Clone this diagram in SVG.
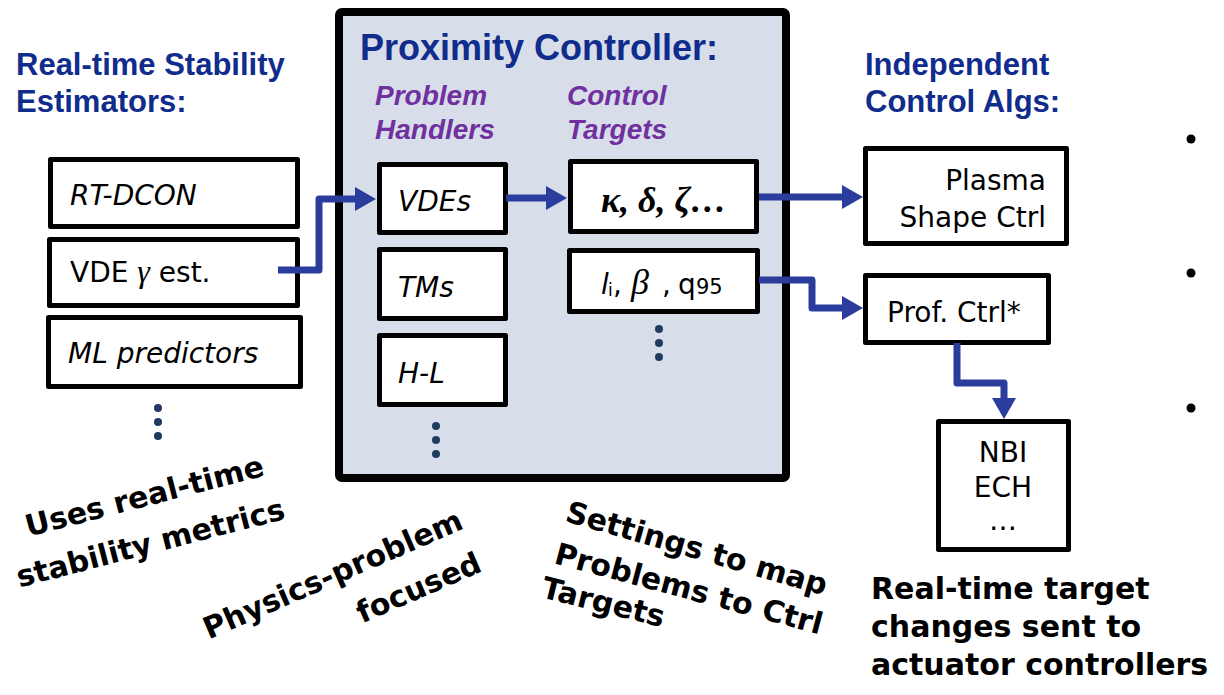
<svg xmlns="http://www.w3.org/2000/svg" width="1224" height="695" viewBox="0 0 1224 695">
  <style>
    .title { font-family: "Liberation Sans", Arial, sans-serif; font-weight: bold; fill: #102c8c; }
    .sub { font-family: "Liberation Sans", Arial, sans-serif; font-weight: bold; font-style: italic; font-size: 28px; fill: #7030a0; }
    .box { fill: #ffffff; stroke: #000000; stroke-width: 5; stroke-linejoin: round; }
    .lbl { font-family: "DejaVu Sans", Verdana, sans-serif; font-size: 28px; fill: #000000; }
    .it { font-style: italic; }
    .note { font-family: "DejaVu Sans", Verdana, sans-serif; font-weight: bold; font-size: 30px; fill: #000000; }
    .dot { fill: #1f3a5f; }
    .link { fill: none; stroke: #2a3c9c; stroke-width: 7; stroke-linejoin: round; marker-end: url(#head); }
  </style>
  <defs>
    <marker id="head" markerUnits="userSpaceOnUse" markerWidth="24" markerHeight="26" viewBox="0 -13 24 26" refX="1" refY="0" orient="auto">
      <path d="M0,-12 L21,0 L0,12 z" fill="#2a3c9c"/>
    </marker>
  </defs>

  <rect width="1224" height="695" fill="#ffffff"/>

  <!-- section headings -->
  <text class="title" font-size="31" x="16" y="75">Real-time Stability</text>
  <text class="title" font-size="31" x="16" y="112">Estimators:</text>
  <text class="title" font-size="31" x="865" y="75">Independent</text>
  <text class="title" font-size="31" x="865" y="112">Control Algs:</text>

  <!-- proximity controller frame -->
  <g id="proximity-controller">
    <rect x="339" y="12" width="447" height="466" rx="3" fill="#d7dee9" stroke="#000000" stroke-width="8"/>
    <text class="title" font-size="36" x="360" y="60">Proximity Controller:</text>
    <text class="sub" x="375" y="105">Problem</text>
    <text class="sub" x="375" y="139">Handlers</text>
    <text class="sub" x="567" y="105">Control</text>
    <text class="sub" x="567" y="139">Targets</text>
  </g>

  <!-- stability estimators -->
  <g id="rt-dcon">
    <rect class="box" x="50.5" y="159.5" width="247" height="67"/>
    <text class="lbl it" x="70" y="205">RT-DCON</text>
  </g>
  <g id="vde-gamma">
    <rect class="box" x="49.5" y="239.5" width="248" height="66"/>
    <text class="lbl" x="70" y="282">VDE <tspan font-family="'Liberation Serif', serif" font-style="italic" font-size="32">γ</tspan> est.</text>
  </g>
  <g id="ml-predictors">
    <rect class="box" x="48.5" y="317.5" width="252" height="69"/>
    <text class="lbl it" x="68" y="363">ML predictors</text>
  </g>
  <g id="estimators-more">
    <circle class="dot" cx="158" cy="408" r="4"/>
    <circle class="dot" cx="158" cy="422" r="4"/>
    <circle class="dot" cx="158" cy="436" r="4"/>
  </g>

  <!-- problem handlers -->
  <g id="vdes">
    <rect class="box" x="379.5" y="164.5" width="126" height="68"/>
    <text class="lbl it" x="398" y="211">VDEs</text>
  </g>
  <g id="tms">
    <rect class="box" x="379.5" y="249.5" width="126" height="69"/>
    <text class="lbl it" x="398" y="297">TMs</text>
  </g>
  <g id="h-l">
    <rect class="box" x="379.5" y="335.5" width="126" height="69"/>
    <text class="lbl it" x="398" y="383">H-L</text>
  </g>
  <g id="handlers-more">
    <circle class="dot" cx="436" cy="426" r="4"/>
    <circle class="dot" cx="436" cy="440" r="4"/>
    <circle class="dot" cx="436" cy="454" r="4"/>
  </g>

  <!-- control targets -->
  <g id="shape-targets">
    <rect class="box" x="570.5" y="161.5" width="186" height="70" stroke-width="7"/>
    <text x="601" y="212" font-family="'Liberation Serif', 'DejaVu Serif', serif" font-style="italic" font-weight="bold" font-size="36">κ, δ, ζ…</text>
  </g>
  <g id="profile-targets">
    <rect class="box" x="569.5" y="250.5" width="188" height="61"/>
    <text class="lbl" y="294" font-size="29"><tspan x="601" font-style="italic">l</tspan><tspan x="608" dy="2" font-size="17">i</tspan><tspan x="613" dy="-2">,</tspan><tspan x="631" font-family="'Liberation Serif', serif" font-style="italic" font-size="36">β</tspan><tspan x="662">,</tspan><tspan x="678">q</tspan><tspan x="696" font-size="21">95</tspan></text>
  </g>
  <g id="targets-more">
    <circle class="dot" cx="659" cy="329" r="4"/>
    <circle class="dot" cx="659" cy="343" r="4"/>
    <circle class="dot" cx="659" cy="357" r="4"/>
  </g>

  <!-- independent control algorithms -->
  <g id="plasma-shape-ctrl">
    <rect class="box" x="865.5" y="148.5" width="201" height="95"/>
    <text class="lbl" font-size="30" text-anchor="end" x="1046" y="190">Plasma</text>
    <text class="lbl" font-size="30" text-anchor="end" x="1046" y="227">Shape Ctrl</text>
  </g>
  <g id="prof-ctrl">
    <rect class="box" x="865.5" y="275.5" width="183" height="67"/>
    <text class="lbl" font-size="29" x="887" y="322">Prof. Ctrl*</text>
  </g>
  <g id="actuators">
    <rect class="box" x="938.5" y="421.5" width="130" height="128"/>
    <text class="lbl" font-size="25" text-anchor="middle" x="1003" y="462">NBI</text>
    <text class="lbl" font-size="25" text-anchor="middle" x="1003" y="497">ECH</text>
    <text class="lbl" font-size="25" text-anchor="middle" x="1003" y="530">…</text>
  </g>

  <!-- bullets on the right margin -->
  <g id="bullets" fill="#000000">
    <circle cx="1191" cy="139" r="4.5"/>
    <circle cx="1191" cy="273" r="4.5"/>
    <circle cx="1191" cy="408" r="4.5"/>
  </g>

  <!-- connectors -->
  <g id="connectors">
    <path class="link" d="M278,270 H319 V199 H356"/>
    <path class="link" d="M506,198 H547"/>
    <path class="link" d="M759,197 H843"/>
    <path class="link" d="M759,280 H812 V308 H843"/>
    <path class="link" d="M957,343 V383 H1004 V399"/>
  </g>

  <!-- annotations -->
  <text class="note" text-anchor="middle" transform="translate(147,506) rotate(-14.5)"><tspan x="0" y="0">Uses real-time</tspan><tspan x="-6" y="47">stability metrics</tspan></text>
  <text class="note" font-size="31" text-anchor="end" transform="translate(465,528) rotate(-23.5)"><tspan x="0" y="0">Physics-problem</tspan><tspan x="0" y="46.5">focused</tspan></text>
  <text class="note" transform="translate(564,521) rotate(16)">Settings to map</text>
  <text class="note" transform="translate(553,563) rotate(15)">Problems to Ctrl</text>
  <text class="note" transform="translate(540,597) rotate(14)">Targets</text>
  <text class="note" font-size="31" x="871" y="599">Real-time target</text>
  <text class="note" font-size="31" x="871" y="637">changes sent to</text>
  <text class="note" font-size="31" x="871" y="675">actuator controllers</text>
</svg>
